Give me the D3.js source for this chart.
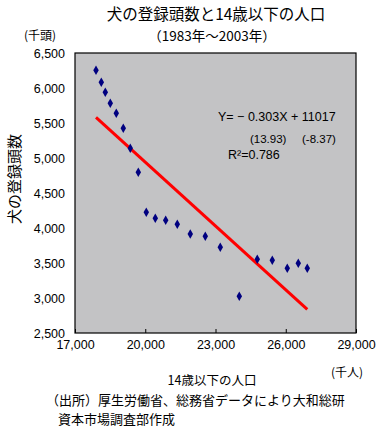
<!DOCTYPE html>
<html><head><meta charset="utf-8">
<script src="https://cdn.jsdelivr.net/npm/d3@7"></script>
<style>
html,body{margin:0;padding:0;background:#fff;}
svg{display:block;}
text{font-family:"Noto Sans CJK JP","Liberation Sans",sans-serif;fill:#000;}
.num{font-family:"Liberation Sans",Arial,sans-serif;}
</style></head>
<body>
<script>
// 14歳以下の人口 (千人)
const children = [17897,18123,18294,18507,18763,19062,19361,19703,20044,20429,20873,21368,21923,22564,23204,24016,24784,25425,26065,26535,26919];
// 犬の登録頭数 (千頭)
const dogs = [6253,6082,5939,5782,5639,5424,5139,4796,4224,4139,4110,4053,3914,3881,3724,3024,3553,3539,3424,3496,3424];
// trend line endpoints [x, y]
const trendX = [17897, 26919];
const trendY = [5581, 2839];
const xTicks = [17000,20000,23000,26000,29000];
const yTicks = [2500,3000,3500,4000,4500,5000,5500,6000,6500];
const title = "犬の登録頭数と14歳以下の人口";
const subtitle = "（1983年～2003年）";
const eqLines = ["Y= − 0.303X + 11017", "(13.93)", "(-8.37)", "R²=0.786"];

const W = 380, H = 444;
const svg = d3.select("body").append("svg").attr("width", W).attr("height", H);
const L = 75, R = 356, T = 53, B = 333;
const x = d3.scaleLinear().domain([17000, 29000]).range([L, R]);
const y = d3.scaleLinear().domain([2500, 6500]).range([B, T]);

svg.append("rect").attr("x", L).attr("y", T).attr("width", R - L).attr("height", B - T)
  .attr("fill", "#C3C3C5").attr("stroke", "#000").attr("stroke-width", 1.2);

// x axis
const xa = svg.append("g").attr("transform", `translate(0,${B})`)
  .call(d3.axisBottom(x).tickValues(xTicks).tickSizeInner(-4).tickSizeOuter(0).tickPadding(8).tickFormat(d3.format(",")));
xa.select(".domain").remove();
xa.selectAll("line").attr("stroke", "#000");
xa.selectAll("text").attr("class", "num").attr("font-size", 12.5).attr("dy", "0.6em");

// y axis
const ya = svg.append("g").attr("transform", `translate(${L},0)`)
  .call(d3.axisLeft(y).tickValues(yTicks).tickSize(0).tickPadding(10).tickFormat(d3.format(",")));
ya.select(".domain").remove();
ya.selectAll("text").attr("class", "num").attr("font-size", 12.5);

// trend line
svg.append("line")
  .attr("x1", x(trendX[0])).attr("y1", y(trendY[0]))
  .attr("x2", x(trendX[1])).attr("y2", y(trendY[1]))
  .attr("stroke", "#FF0000").attr("stroke-width", 3);

// points
const sym = d3.symbol().type(d3.symbolDiamond).size(26);
svg.append("g").selectAll("path").data(children.map((c, i) => [c, dogs[i]])).join("path")
  .attr("d", sym)
  .attr("transform", d => `translate(${x(d[0])},${y(d[1])})`)
  .attr("fill", "#000080");

// titles
svg.append("text").attr("x", 216).attr("y", 20).attr("text-anchor", "middle").attr("font-size", 15.5).text(title);
svg.append("text").attr("x", 212).attr("y", 41).attr("text-anchor", "middle").attr("font-size", 13.5).text(subtitle);
svg.append("text").attr("x", 24).attr("y", 40).attr("font-size", 12).text("(千頭)");
svg.append("text").attr("transform", "translate(20,179) rotate(-90)").attr("text-anchor", "middle").attr("font-size", 15).text("犬の登録頭数");
svg.append("text").attr("x", 347).attr("y", 377).attr("text-anchor", "middle").attr("font-size", 12).text("(千人)");
svg.append("text").attr("x", 212).attr("y", 385).attr("text-anchor", "middle").attr("font-size", 12.5).text("14歳以下の人口");

// equation
svg.append("text").attr("class", "num").attr("x", 218).attr("y", 121).attr("font-size", 12.5).text(eqLines[0]);
svg.append("text").attr("class", "num").attr("x", 250).attr("y", 143).attr("font-size", 11.5).text(eqLines[1]);
svg.append("text").attr("class", "num").attr("x", 302).attr("y", 143).attr("font-size", 11.5).text(eqLines[2]);
svg.append("text").attr("class", "num").attr("x", 228).attr("y", 159).attr("font-size", 12.5).text(eqLines[3]);

// footer
svg.append("text").attr("x", 46).attr("y", 405).attr("font-size", 13).text("（出所）厚生労働省、総務省データにより大和総研");
svg.append("text").attr("x", 58).attr("y", 424).attr("font-size", 13).text("資本市場調査部作成");
</script>
</body></html>
